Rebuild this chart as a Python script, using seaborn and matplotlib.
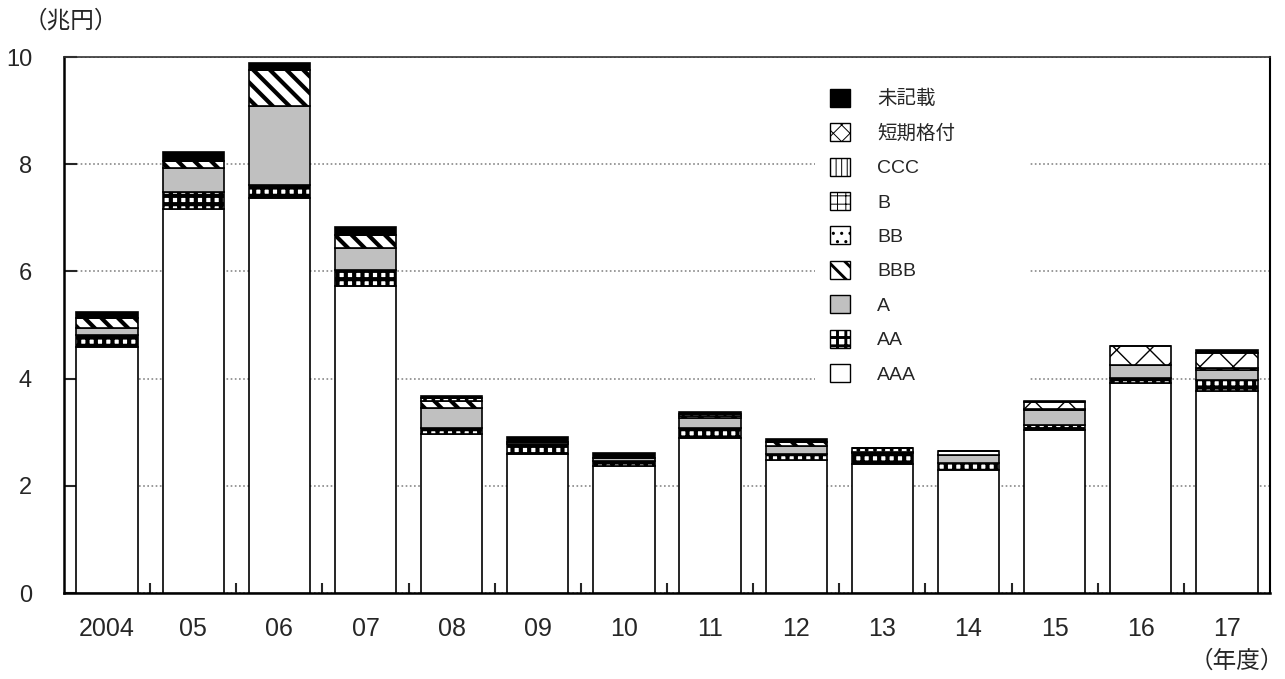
import numpy as np
import matplotlib
matplotlib.use('Agg')
import matplotlib.pyplot as plt
import seaborn as sns
from matplotlib.patches import Patch, Rectangle

# data (trillion yen)
years = ['2004', '05', '06', '07', '08', '09', '10', '11', '12', '13', '14', '15', '16', '17']
aaa = [4.59, 7.17, 7.37, 5.73, 2.96, 2.59, 2.37, 2.89, 2.49, 2.41, 2.30, 3.04, 3.92, 3.76]
aa = [0.23, 0.32, 0.24, 0.29, 0.12, 0.19, 0.09, 0.19, 0.11, 0.20, 0.13, 0.09, 0.09, 0.21]
a = [0.12, 0.43, 1.48, 0.42, 0.38, 0.04, 0.05, 0.18, 0.15, 0.02, 0.14, 0.28, 0.25, 0.19]
bbb = [0.19, 0.14, 0.66, 0.23, 0.13, 0.00, 0.00, 0.05, 0.06, 0.00, 0.00, 0.03, 0.00, 0.03]
bb = [0.00, 0.00, 0.00, 0.00, 0.05, 0.00, 0.00, 0.03, 0.00, 0.08, 0.07, 0.00, 0.00, 0.00]
b = [0.00] * 14
ccc = [0.00] * 14
short_term = [0.00, 0.00, 0.00, 0.00, 0.00, 0.00, 0.00, 0.00, 0.00, 0.00, 0.00, 0.12, 0.34, 0.29]
unrated = [0.11, 0.17, 0.13, 0.16, 0.03, 0.09, 0.11, 0.04, 0.06, 0.00, 0.00, 0.03, 0.00, 0.05]

labels = ['AAA', 'AA', 'A', 'BBB', 'BB', 'B', 'CCC', '短期格付', '未記載']
series = [aaa, aa, a, bbb, bb, b, ccc, short_term, unrated]

# fill style per series: (facecolor, hatch, hatch linewidth)
styles = [
    ('white', None, 1.0),
    ('white', '++', 3.0),
    ('#c0c0c0', None, 1.0),
    ('white', '\\\\', 3.0),
    ('white', '..', 1.5),
    ('white', '++', 1.0),
    ('white', '|||', 1.0),
    ('white', 'x', 1.0),
    ('black', None, 1.0),
]

sns.set_style('white')
plt.rcParams['font.family'] = ['Liberation Sans', 'Noto Sans CJK JP']

fig = plt.figure(figsize=(12.85, 6.79), dpi=100)
ax = fig.add_axes([64 / 1285, 1 - 593 / 679, 1206 / 1285, 536 / 679])

bottom = np.zeros(len(years))
for vals, (fc, hatch, hlw) in zip(series, styles):
    n_before = len(ax.patches)
    sns.barplot(x=years, y=vals, bottom=bottom, color=fc, saturation=1,
                edgecolor='black', linewidth=1.2, hatch=hatch, width=0.71,
                errorbar=None, ax=ax, zorder=3)
    for p in ax.patches[n_before:]:
        p.set_facecolor(fc)
        if hasattr(p, 'set_hatch_linewidth'):
            p.set_hatch_linewidth(hlw)
    bottom = bottom + np.array(vals)

ax.set_ylim(0, 10)
ax.set_xlim(-0.5, len(years) - 0.5)
ax.set_yticks([0, 2, 4, 6, 8, 10])
ax.set_yticklabels(['0', '2', '4', '6', '8', '10'])
ax.yaxis.grid(True, linestyle=(0, (1, 1.5)), color='#888888', linewidth=1.2, zorder=0)
ax.set_axisbelow(True)
ax.set_xlabel('')
ax.set_ylabel('')

ax.set_xticks(np.arange(0.5, len(years) - 0.5), minor=True)
ax.tick_params(axis='x', which='major', length=0, labelsize=18, pad=17)
ax.tick_params(axis='x', which='minor', direction='in', length=7, width=1.5, bottom=True)
ax.tick_params(axis='y', direction='in', length=9, width=1.5, labelsize=17, pad=23, left=True)

for side in ['left', 'bottom']:
    ax.spines[side].set_linewidth(1.8)
    ax.spines[side].set_color('black')
ax.spines['right'].set_linewidth(1.5)
ax.spines['right'].set_color('black')
ax.spines['top'].set_linewidth(1.2)
ax.spines['top'].set_color('#333333')
ax.spines['top'].set_linestyle((0, (2, 1)))

# white block behind the legend, wider than the legend frame
ax.add_patch(Rectangle((815 / 1285, 1 - 388 / 679), 215 / 1285, 313 / 679,
                       transform=fig.transFigure, facecolor='white', edgecolor='none', zorder=2))

# legend (top entry first)
handles = []
for lab, (fc, hatch, hlw) in zip(labels, styles):
    if hatch == 'x':
        hatch = 'xx'
    h = Patch(facecolor=fc, edgecolor='black', hatch=hatch, linewidth=1.0, label=lab)
    handles.append(h)
handles = handles[::-1]
leg = ax.legend(handles=handles, loc='upper left',
                bbox_to_anchor=(818 / 1285, 1 - 77 / 679), bbox_transform=fig.transFigure,
                fontsize=14, frameon=True, framealpha=1, edgecolor='white',
                handlelength=1.05, handleheight=1.05, labelspacing=0.76,
                handletextpad=1.4, borderpad=0.6, borderaxespad=0, fancybox=False)
leg.get_frame().set_linewidth(0)
leg.set_zorder(5)
for p, (fc, hatch, hlw) in zip(leg.get_patches(), styles[::-1]):
    if hasattr(p, 'set_hatch_linewidth'):
        p.set_hatch_linewidth(hlw * 0.7)

fig.text(24 / 1285, 1 - 21 / 679, '（兆円）', fontsize=17, va='center', ha='left')
fig.text(1284 / 1285, 1 - 662 / 679, '（年度）', fontsize=17, va='center', ha='right')

fig.savefig('out.png', dpi=100)
